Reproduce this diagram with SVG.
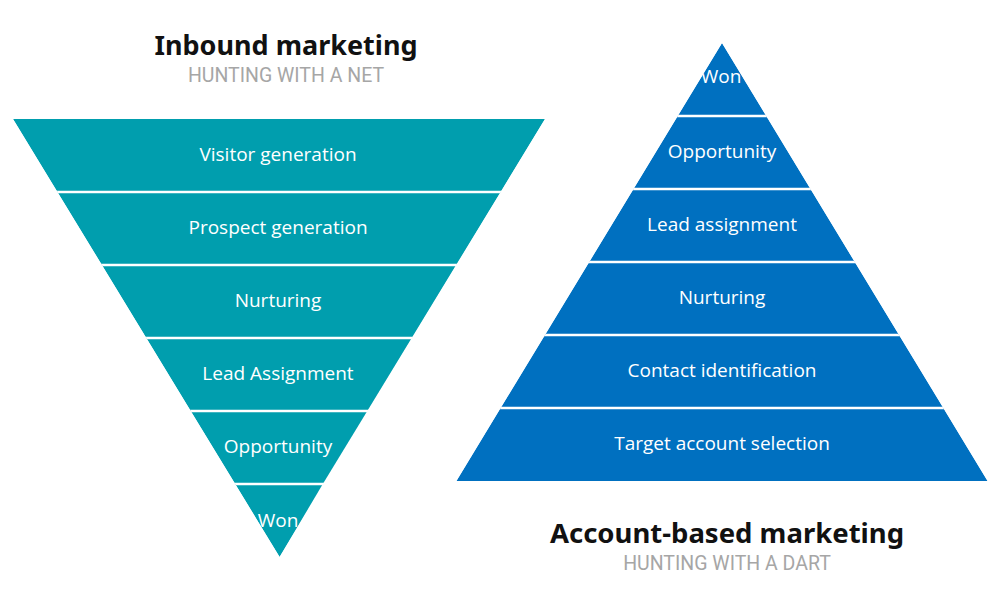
<svg xmlns="http://www.w3.org/2000/svg" width="1000" height="600" viewBox="0 0 1000 600">
<style>
.t{fill:#009EAE}
.b{fill:#0070C0}
.lbl{font-family:"Open Sans","Noto Sans",sans-serif;font-size:19px;fill:#fff;text-anchor:middle}
.ttl{font-family:"Noto Sans","Open Sans",sans-serif;font-size:27px;font-weight:bold;fill:#111;text-anchor:middle}
.sub{font-family:"Roboto","Noto Sans",sans-serif;font-size:19.5px;fill:#A6A6A6;text-anchor:middle}
.sep{stroke:#fff;stroke-width:2.5}
</style>
<defs>
<clipPath id="clipL"><polygon points="13,119 545,119 279.6,557"/></clipPath>
<clipPath id="clipR"><polygon points="722,43 987.6,481 456.4,481"/></clipPath>
</defs>
<rect width="1000" height="600" fill="#fff"/>
<g id="title-inbound">
<text class="ttl" x="286" y="55">Inbound marketing</text>
<text class="sub" x="286" y="82">HUNTING WITH A NET</text>
</g>
<g id="title-abm">
<text class="ttl" x="727" y="543" style="font-size:27.5px">Account-based marketing</text>
<text class="sub" x="727" y="570">HUNTING WITH A DART</text>
</g>
<g id="inbound" clip-path="url(#clipL)">
<g id="in-visitor"><polygon class="t" points="13,119 545,119 500.6,192 57.4,192"/><text class="lbl" x="278" y="161">Visitor generation</text></g>
<g id="in-prospect"><polygon class="t" points="57.4,192 500.6,192 456.1,265 101.9,265"/><text class="lbl" x="278" y="234">Prospect generation</text></g>
<g id="in-nurturing"><polygon class="t" points="101.9,265 456.1,265 411.7,338 146.3,338"/><text class="lbl" x="278" y="307">Nurturing</text></g>
<g id="in-lead"><polygon class="t" points="146.3,338 411.7,338 367.3,411 190.7,411"/><text class="lbl" x="278" y="380">Lead Assignment</text></g>
<g id="in-opportunity"><polygon class="t" points="190.7,411 367.3,411 322.8,484 235.2,484"/><text class="lbl" x="278" y="453">Opportunity</text></g>
<g id="in-won"><polygon class="t" points="235.2,484 322.8,484 279.6,557"/><text class="lbl" x="278" y="527">Won</text></g>
<g id="in-separators">
<line class="sep" x1="0" y1="192" x2="560" y2="192"/>
<line class="sep" x1="0" y1="265" x2="560" y2="265"/>
<line class="sep" x1="0" y1="338" x2="560" y2="338"/>
<line class="sep" x1="0" y1="411" x2="560" y2="411"/>
<line class="sep" x1="0" y1="484" x2="560" y2="484"/>
</g>
</g>
<g id="abm" clip-path="url(#clipR)">
<g id="abm-won"><polygon class="b" points="722,43 766.3,116 677.7,116"/><text class="lbl" x="721" y="83">Won</text></g>
<g id="abm-opportunity"><polygon class="b" points="677.7,116 766.3,116 810.5,189 633.5,189"/><text class="lbl" x="722" y="158">Opportunity</text></g>
<g id="abm-lead"><polygon class="b" points="633.5,189 810.5,189 854.8,262 589.2,262"/><text class="lbl" x="722" y="231">Lead assignment</text></g>
<g id="abm-nurturing"><polygon class="b" points="589.2,262 854.8,262 899.1,335 544.9,335"/><text class="lbl" x="722" y="304">Nurturing</text></g>
<g id="abm-contact"><polygon class="b" points="544.9,335 899.1,335 943.4,408 500.6,408"/><text class="lbl" x="722" y="377">Contact identification</text></g>
<g id="abm-target"><polygon class="b" points="500.6,408 943.4,408 987.6,481 456.4,481"/><text class="lbl" x="722" y="450">Target account selection</text></g>
<g id="abm-separators">
<line class="sep" x1="440" y1="116" x2="1000" y2="116"/>
<line class="sep" x1="440" y1="189" x2="1000" y2="189"/>
<line class="sep" x1="440" y1="262" x2="1000" y2="262"/>
<line class="sep" x1="440" y1="335" x2="1000" y2="335"/>
<line class="sep" x1="440" y1="408" x2="1000" y2="408"/>
</g>
</g>
<g id="connectors"/>
</svg>
